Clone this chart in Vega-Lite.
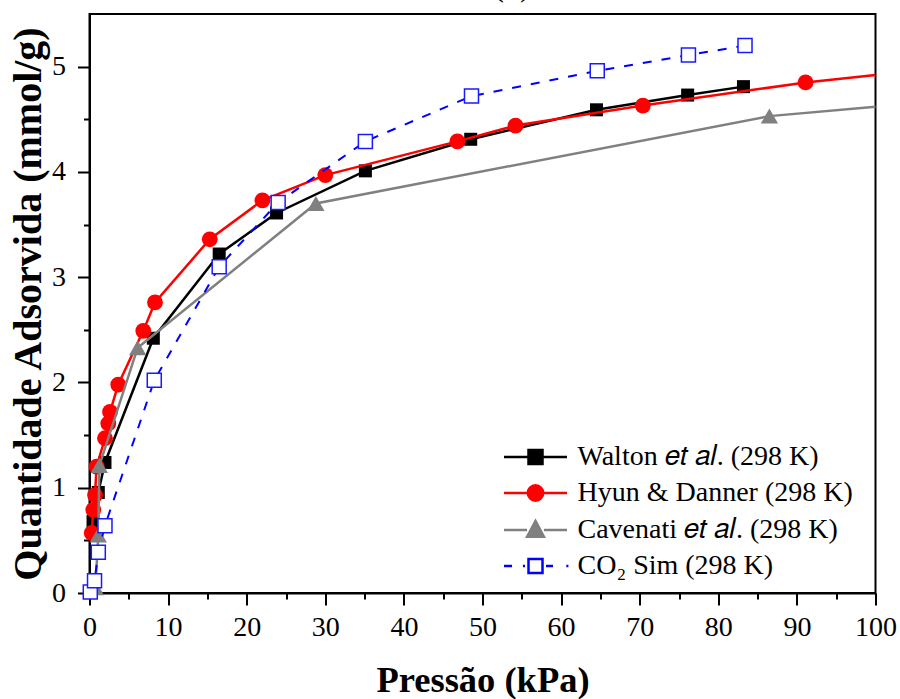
{
  "$schema": "https://vega.github.io/schema/vega-lite/v6.json",
  "width": 786,
  "height": 579,
  "autosize": {"type": "none"},
  "padding": {"left": 89.5, "top": 14, "right": 24.5, "bottom": 106},
  "background": "white",
  "title": {"text": "(a)", "font": "Liberation Serif", "fontSize": 36, "fontWeight": "normal", "color": "black", "offset": 11, "dx": 29.5, "anchor": "middle"},
  "datasets": {
    "iso": [
      {"serie": "Walton", "p": 0.45, "q": 0.68},
      {"serie": "Walton", "p": 1.12, "q": 0.955},
      {"serie": "Walton", "p": 1.97, "q": 1.24},
      {"serie": "Walton", "p": 8.12, "q": 2.42},
      {"serie": "Walton", "p": 16.5, "q": 3.22},
      {"serie": "Walton", "p": 23.8, "q": 3.61},
      {"serie": "Walton", "p": 35.1, "q": 4.01},
      {"serie": "Walton", "p": 48.5, "q": 4.31},
      {"serie": "Walton", "p": 64.5, "q": 4.59},
      {"serie": "Walton", "p": 76.1, "q": 4.73},
      {"serie": "Walton", "p": 83.2, "q": 4.81},
      {"serie": "Hyun", "p": 0.28, "q": 0.57},
      {"serie": "Hyun", "p": 0.48, "q": 0.79},
      {"serie": "Hyun", "p": 0.7, "q": 0.93},
      {"serie": "Hyun", "p": 0.9, "q": 1.2},
      {"serie": "Hyun", "p": 1.97, "q": 1.47},
      {"serie": "Hyun", "p": 2.39, "q": 1.61},
      {"serie": "Hyun", "p": 2.61, "q": 1.72},
      {"serie": "Hyun", "p": 3.66, "q": 1.98},
      {"serie": "Hyun", "p": 6.84, "q": 2.49},
      {"serie": "Hyun", "p": 8.33, "q": 2.76},
      {"serie": "Hyun", "p": 15.3, "q": 3.36},
      {"serie": "Hyun", "p": 22.0, "q": 3.73},
      {"serie": "Hyun", "p": 30.0, "q": 3.97},
      {"serie": "Hyun", "p": 46.8, "q": 4.29},
      {"serie": "Hyun", "p": 54.2, "q": 4.44},
      {"serie": "Hyun", "p": 70.4, "q": 4.63},
      {"serie": "Hyun", "p": 91.1, "q": 4.85},
      {"serie": "Hyun", "p": 100, "q": 4.92},
      {"serie": "Cavenati", "p": 0.75, "q": 0.05},
      {"serie": "Cavenati", "p": 1.12, "q": 0.55},
      {"serie": "Cavenati", "p": 1.25, "q": 1.21},
      {"serie": "Cavenati", "p": 6.13, "q": 2.33},
      {"serie": "Cavenati", "p": 28.8, "q": 3.7},
      {"serie": "Cavenati", "p": 86.5, "q": 4.53},
      {"serie": "Cavenati", "p": 100, "q": 4.62},
      {"serie": "CO2", "p": 0.1, "q": 0.01},
      {"serie": "CO2", "p": 0.64, "q": 0.117},
      {"serie": "CO2", "p": 1.12, "q": 0.386},
      {"serie": "CO2", "p": 1.97, "q": 0.64},
      {"serie": "CO2", "p": 8.24, "q": 2.02},
      {"serie": "CO2", "p": 16.5, "q": 3.1},
      {"serie": "CO2", "p": 24.0, "q": 3.71},
      {"serie": "CO2", "p": 35.1, "q": 4.29},
      {"serie": "CO2", "p": 48.6, "q": 4.72},
      {"serie": "CO2", "p": 64.6, "q": 4.96},
      {"serie": "CO2", "p": 76.2, "q": 5.11},
      {"serie": "CO2", "p": 83.4, "q": 5.2}
    ]
  },
  "data": {"name": "iso"},
  "layer": [
    {
      "transform": [{"filter": "datum.serie === 'Walton'"}],
      "mark": {"type": "line", "color": "black", "strokeWidth": 2.5},
      "encoding": {
        "x": {"field": "p", "type": "quantitative", "scale": {"domain": [0, 100], "nice": false, "zero": false},
          "axis": {"orient": "bottom", "values": [0, 10, 20, 30, 40, 50, 60, 70, 80, 90, 100], "format": "d", "title": "Pressão (kPa)",
            "titleFont": "Liberation Serif", "titleFontSize": 36.5, "titleFontWeight": "bold", "titleColor": "black", "titlePadding": 21,
            "labelFont": "Liberation Serif", "labelFontSize": 28, "labelColor": "black", "labelPadding": 8, "labelFlush": false, "labelOverlap": false,
            "tickSize": 12, "tickWidth": 2, "tickColor": "black", "domainColor": "black", "domainWidth": 2, "grid": false}},
        "y": {"field": "q", "type": "quantitative", "scale": {"domain": [0, 5.5], "nice": false, "zero": false},
          "axis": {"orient": "left", "values": [0, 1, 2, 3, 4, 5], "format": "d", "title": "Quantidade Adsorvida (mmol/g)",
            "titleFont": "Liberation Serif", "titleFontSize": 40, "titleFontWeight": "bold", "titleColor": "black", "titlePadding": 3,
            "labelFont": "Liberation Serif", "labelFontSize": 28, "labelColor": "black", "labelPadding": 12, "labelFlush": false, "labelOverlap": false,
            "tickSize": 12, "tickWidth": 2, "tickColor": "black", "domainColor": "black", "domainWidth": 2, "grid": false}}
      }
    },
    {
      "transform": [{"filter": "datum.serie === 'Walton'"}],
      "mark": {"type": "point", "shape": "square", "filled": true, "color": "black", "size": 169, "opacity": 1},
      "encoding": {
        "x": {"field": "p", "type": "quantitative",
          "axis": {"orient": "bottom", "values": [5, 15, 25, 35, 45, 55, 65, 75, 85, 95], "labels": false, "title": null, "domain": false, "grid": false,
            "tickSize": 6, "tickWidth": 2, "tickColor": "black"}},
        "y": {"field": "q", "type": "quantitative",
          "axis": {"orient": "left", "values": [0.5, 1.5, 2.5, 3.5, 4.5], "labels": false, "title": null, "domain": false, "grid": false,
            "tickSize": 6, "tickWidth": 2, "tickColor": "black"}}
      }
    },
    {
      "transform": [{"filter": "datum.serie === 'Hyun'"}],
      "mark": {"type": "line", "color": "#ff0000", "strokeWidth": 2.5},
      "encoding": {
        "x": {"field": "p", "type": "quantitative", "axis": null},
        "y": {"field": "q", "type": "quantitative", "axis": null}
      }
    },
    {
      "transform": [{"filter": "datum.serie === 'Hyun' && datum.p < 99.9"}],
      "mark": {"type": "point", "shape": "circle", "filled": true, "color": "#ff0000", "size": 250, "opacity": 1},
      "encoding": {
        "x": {"field": "p", "type": "quantitative", "axis": null},
        "y": {"field": "q", "type": "quantitative", "axis": null}
      }
    },
    {
      "transform": [{"filter": "datum.serie === 'Cavenati'"}],
      "mark": {"type": "line", "color": "#808080", "strokeWidth": 2.5},
      "encoding": {
        "x": {"field": "p", "type": "quantitative", "axis": null},
        "y": {"field": "q", "type": "quantitative", "axis": null}
      }
    },
    {
      "transform": [{"filter": "datum.serie === 'Cavenati' && datum.p < 99.9"}],
      "mark": {"type": "point", "shape": "triangle-up", "filled": true, "color": "#808080", "size": 300, "opacity": 1},
      "encoding": {
        "x": {"field": "p", "type": "quantitative", "axis": null},
        "y": {"field": "q", "type": "quantitative", "axis": null}
      }
    },
    {
      "transform": [{"filter": "datum.serie === 'CO2'"}],
      "mark": {"type": "line", "color": "#0000ff", "strokeWidth": 2, "strokeDash": [9, 10]},
      "encoding": {
        "x": {"field": "p", "type": "quantitative", "axis": null},
        "y": {"field": "q", "type": "quantitative", "axis": null}
      }
    },
    {
      "transform": [{"filter": "datum.serie === 'CO2'"}],
      "mark": {"type": "point", "shape": "square", "filled": true, "fill": "white", "stroke": "#1a1aff", "strokeWidth": 1.5, "size": 196, "opacity": 1},
      "encoding": {
        "x": {"field": "p", "type": "quantitative", "axis": null},
        "y": {"field": "q", "type": "quantitative", "axis": null}
      }
    },
    {
      "mark": {"type": "point", "filled": true, "opacity": 0, "strokeWidth": 2},
      "encoding": {
        "x": {"field": "p", "type": "quantitative", "axis": null},
        "y": {"field": "q", "type": "quantitative", "axis": null},
        "shape": {"field": "serie", "type": "nominal", "title": null,
          "scale": {"domain": ["Walton", "Hyun", "Cavenati", "CO2"],
            "range": [
              "M-4.5,0H-1M1,0H4.5M-1,-1H1V1H-1Z",
              "M-4.5,0H-1.1M1.1,0H4.5M1.1,0A1.1,1.1,0,1,1,-1.1,0A1.1,1.1,0,1,1,1.1,0Z",
              "M-4.5,0H-1.2M1.2,0H4.5M0,-1.3L1.2,0.95H-1.2Z",
              "M-4.5,0H-3.35M-1.8,0H-1.5M-1,-1H1V1H-1ZM1.5,0H2.5M4.4,0H4.7"
            ]},
          "legend": {"labelExpr": "datum.value === 'Walton' ? 'Walton 𝑒𝑡 𝑎𝑙. (298 K)' : datum.value === 'Hyun' ? 'Hyun & Danner (298 K)' : datum.value === 'Cavenati' ? 'Cavenati 𝑒𝑡 𝑎𝑙. (298 K)' : 'CO₂ Sim (298 K)'"}},
        "fill": {"field": "serie", "type": "nominal", "title": null,
          "scale": {"domain": ["Walton", "Hyun", "Cavenati", "CO2"], "range": ["black", "#ff0000", "#808080", "white"]},
          "legend": {"labelExpr": "datum.value === 'Walton' ? 'Walton 𝑒𝑡 𝑎𝑙. (298 K)' : datum.value === 'Hyun' ? 'Hyun & Danner (298 K)' : datum.value === 'Cavenati' ? 'Cavenati 𝑒𝑡 𝑎𝑙. (298 K)' : 'CO₂ Sim (298 K)'"}},
        "stroke": {"field": "serie", "type": "nominal", "title": null,
          "scale": {"domain": ["Walton", "Hyun", "Cavenati", "CO2"], "range": ["black", "#ff0000", "#808080", "#0000ff"]},
          "legend": {"labelExpr": "datum.value === 'Walton' ? 'Walton 𝑒𝑡 𝑎𝑙. (298 K)' : datum.value === 'Hyun' ? 'Hyun & Danner (298 K)' : datum.value === 'Cavenati' ? 'Cavenati 𝑒𝑡 𝑎𝑙. (298 K)' : 'CO₂ Sim (298 K)'"}}
      }
    }
  ],
  "resolve": {"axis": {"x": "independent", "y": "independent"}},
  "config": {
    "view": {"stroke": "black", "strokeWidth": 2},
    "axis": {"grid": false},
    "legend": {
      "orient": "none", "legendX": 432, "legendY": 429, "padding": 0,
      "labelFont": "Liberation Serif", "labelFontSize": 28, "labelColor": "black",
      "symbolSize": 196, "symbolStrokeWidth": 2.5, "symbolOpacity": 1,
      "labelOffset": 28, "rowPadding": 8, "labelLimit": 0
    }
  }
}
